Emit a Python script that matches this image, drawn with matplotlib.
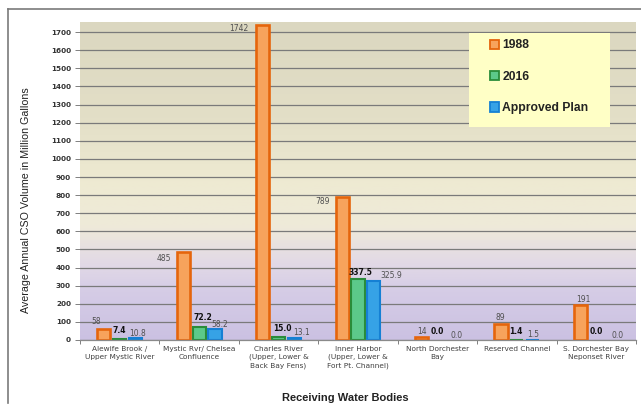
import matplotlib
matplotlib.use("Agg")
import matplotlib.pyplot as plt
import numpy as np
from matplotlib.colors import LinearSegmentedColormap
from matplotlib.patches import Rectangle, Patch
from matplotlib.lines import Line2D

# ---- data ----
categories = [
    "Alewife Brook /\nUpper Mystic River",
    "Mystic Rvr/ Chelsea\nConfluence",
    "Charles River\n(Upper, Lower &\nBack Bay Fens)",
    "Inner Harbor\n(Upper, Lower &\nFort Pt. Channel)",
    "North Dorchester\nBay",
    "Reserved Channel",
    "S. Dorchester Bay\nNeponset River",
]
vol_1988 = [58, 485, 1742, 789, 14, 89, 191]
vol_2016 = [7.4, 72.2, 15.0, 337.5, 0.0, 1.4, 0.0]
vol_plan = [10.8, 58.2, 13.1, 325.9, 0.0, 1.5, 0.0]
series_names = ["1988", "2016", "Approved Plan"]
yticks = list(range(0, 1800, 100))

# ---- styling ----
fills = ["#f7a35c", "#5cc98a", "#36a2e6"]
edges = ["#e5650c", "#2a8c3a", "#1580d4"]
edge_w = [1.9, 1.5, 1.5]
offsets = [-0.2, 0.0, 0.2]
bar_w = 0.165

# label offsets in pixels (dx, dy) from the top centre of each bar
lab_off = [
    [(-8, 7.5), (-19, -6), (-24, -4), (-20, -4), (0, 5.5), (-1, 6), (2.5, 5.5)],
    [(0, 7.7), (3.5, 9), (4, 9), (2.5, 6), (0, 8), (-1, 8), (0, 8)],
    [(2, 5), (4.5, 4.5), (7, 5.6), (17, 5), (3, 4), (0, 5), (5.6, 4)],
]
lab_fmt = ["{:.0f}", "{:.1f}", "{:.1f}"]
lab_weight = ["normal", "bold", "normal"]
lab_color = ["#505050", "#111111", "#505050"]

fig = plt.figure(figsize=(6.41, 4.07), dpi=100)
fig.patch.set_facecolor("white")
ax = fig.add_axes([80 / 641, 1 - 340 / 407, 556 / 641, 318 / 407])

ymax = 1756
ax.set_xlim(-0.5, len(categories) - 0.5)
ax.set_ylim(0, ymax)

# gradient plot background: tan at the top, cream in the middle, lavender at the bottom
bg = LinearSegmentedColormap.from_list(
    "bg",
    [(0.0, "#cbc1e2"), (0.15, "#d5cce6"), (0.24, "#e2d9e6"),
     (0.36, "#efead9"), (0.50, "#eeead2"), (0.70, "#e3dfc7"), (1.0, "#dbd7c0")],
)
grad = np.linspace(0, 1, 256).reshape(-1, 1)
ax.imshow(grad, cmap=bg, origin="lower", aspect="auto",
          extent=[-0.5, len(categories) - 0.5, 0, ymax], zorder=0.1)

ax.set_axisbelow(True)
ax.yaxis.grid(True, color="#7a7a7a", linewidth=0.9)
ax.set_yticks(yticks)
ax.set_yticklabels([str(t) for t in yticks], fontsize=5.2, fontweight="bold",
                   color="#333333", family="DejaVu Sans")
ax.tick_params(axis="y", length=3.5, width=0.7, color="#808080", pad=3)

x = np.arange(len(categories))
ax.set_xticks(x)
ax.set_xticklabels(categories, fontsize=5.3, color="#404040",
                   family="DejaVu Sans", linespacing=1.4)
ax.tick_params(axis="x", which="major", length=0, pad=4)
ax.set_xticks(np.arange(len(categories) + 1) - 0.5, minor=True)
ax.tick_params(axis="x", which="minor", length=3, width=0.7, color="#808080")

for s in ["top", "right", "left"]:
    ax.spines[s].set_visible(False)
ax.spines["bottom"].set_color("#8a8a8a")
ax.spines["bottom"].set_linewidth(0.9)
ax.spines["bottom"].set_zorder(2.5)

all_series = [vol_1988, vol_2016, vol_plan]
for i, vals in enumerate(all_series):
    bars = ax.bar(x + offsets[i], vals, width=bar_w, color=fills[i],
                  edgecolor=edges[i], linewidth=edge_w[i], zorder=2)
    for b, v, (dx, dy) in zip(bars, vals, lab_off[i]):
        if v == 0:
            b.set_linewidth(0)
        ax.annotate(lab_fmt[i].format(v), xy=(b.get_x() + b.get_width() / 2, v),
                    xytext=(dx, dy), textcoords="offset pixels",
                    ha="center", va="center", fontsize=5.5,
                    fontweight=lab_weight[i], color=lab_color[i],
                    family="DejaVu Sans", zorder=5)

# legend panel
ax.add_patch(Rectangle((0.6996, 0.670), 0.2536, 0.295, transform=ax.transAxes,
                       facecolor="#ffffc6", edgecolor="none", zorder=3))
handles = [Patch(facecolor=fills[i], edgecolor=edges[i], linewidth=1.3)
           for i in range(3)]
leg = ax.legend(handles, series_names, loc="upper left",
                bbox_to_anchor=(0.737, 0.945), frameon=False,
                prop={"family": "Liberation Sans", "weight": "bold", "size": 8.7},
                handlelength=0.8, handleheight=0.8, handletextpad=0.25,
                labelspacing=1.6, borderpad=0, borderaxespad=0)
leg.set_zorder(4)
for t in leg.get_texts():
    t.set_color("#222222")

ax.set_ylabel("Average Annual CSO Volume in Million Gallons",
              fontsize=7.7, family="Liberation Sans", color="#222222")
ax.yaxis.set_label_coords(-0.088, 0.44)
ax.set_xlabel("Receiving Water Bodies", fontsize=8, fontweight="bold",
              family="Liberation Sans", color="#222222")
ax.xaxis.set_label_coords(0.4775, -0.167)

# outer frame (top and left edges)
fig.add_artist(Line2D([8 / 641, 1], [1 - 9 / 407, 1 - 9 / 407],
                      transform=fig.transFigure, color="#7a7a7a", linewidth=1.2))
fig.add_artist(Line2D([8 / 641, 8 / 641], [1 - 9 / 407, 1 - 403 / 407],
                      transform=fig.transFigure, color="#7a7a7a", linewidth=1.2))

fig.savefig("out.png", dpi=100)
